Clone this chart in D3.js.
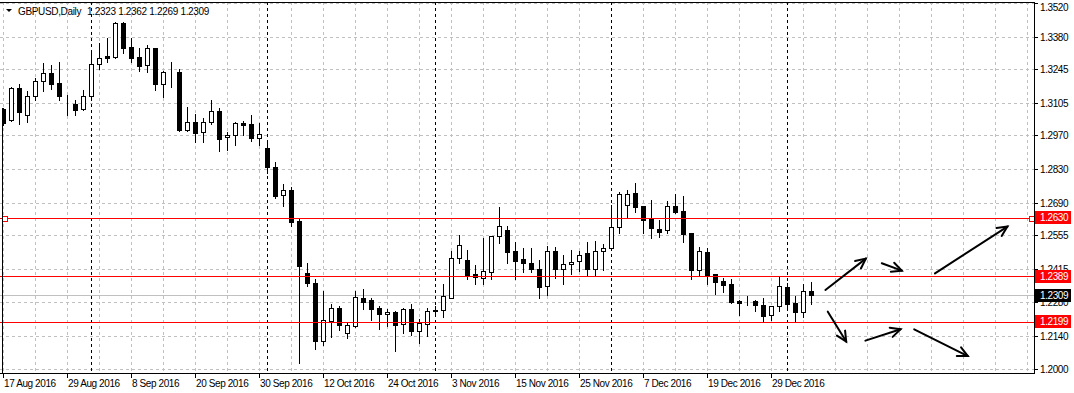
<!DOCTYPE html>
<html><head><meta charset="utf-8">
<script src="https://cdn.jsdelivr.net/npm/d3@7/dist/d3.min.js"></script>
<style>html,body{margin:0;padding:0;background:#fff;} svg{display:block;}</style>
</head><body>
<svg id="chart" width="1074" height="393"></svg>
<script>
// ---------------- data ----------------
const symbolTitle = "GBPUSD,Daily";
const opens  = [1.3080,1.3034,1.3166,1.3054,1.3132,1.3195,1.3228,1.3186,1.3105,1.3100,1.3078,1.3132,1.3265,1.3300,1.3295,1.3436,1.3336,1.3294,1.3261,1.3331,
                1.3185,1.3232,1.3232,1.2994,1.3024,1.2983,1.3024,1.3070,1.2962,1.2971,1.3020,1.3016,1.2958,1.2918,1.2839,1.2722,1.2742,1.2615,1.2398,1.2357,
                1.2119,1.2202,1.2253,1.2152,1.2178,1.2294,1.2286,1.2253,1.2228,1.2236,1.2187,1.2249,1.2160,1.2187,1.2243,1.2244,1.2297,1.2460,1.2452,1.2395,
                1.2377,1.2402,1.2552,1.2578,1.2491,1.2457,1.2441,1.2416,1.2344,1.2489,1.2417,1.2436,1.2448,1.2481,1.2415,1.2489,1.2505,1.2589,1.2680,1.2730,
                1.2677,1.2625,1.2582,1.2577,1.2676,1.2657,1.2564,1.2413,1.2485,1.2395,1.2366,1.2354,1.2283,1.2283,1.2283,1.2267,1.2224,1.2261,1.2340,1.2274,
                1.2236,1.2323];
const highs  = [1.3085,1.3169,1.3183,1.3154,1.3208,1.3269,1.3262,1.3273,1.3138,1.3117,1.3158,1.3326,1.3353,1.3375,1.3442,1.3440,1.3374,1.3331,1.3345,1.3334,
                1.3237,1.3275,1.3246,1.3088,1.3059,1.3041,1.3117,1.3083,1.2983,1.3024,1.3030,1.3055,1.3022,1.2948,1.2859,1.2767,1.2756,1.2622,1.2440,1.2373,
                1.2325,1.2270,1.2263,1.2197,1.2325,1.2333,1.2296,1.2261,1.2249,1.2242,1.2253,1.2271,1.2207,1.2253,1.2262,1.2353,1.2492,1.2557,1.2495,1.2434,
                1.2546,1.2553,1.2674,1.2594,1.2527,1.2502,1.2502,1.2453,1.2511,1.2509,1.2474,1.2494,1.2492,1.2527,1.2531,1.2520,1.2681,1.2737,1.2744,1.2771,
                1.2678,1.2702,1.2619,1.2698,1.2726,1.2720,1.2565,1.2506,1.2503,1.2396,1.2380,1.2376,1.2287,1.2304,1.2287,1.2297,1.2264,1.2387,1.2357,1.2305,
                1.2355,1.2362];
const lows   = [1.3015,1.3030,1.3019,1.3027,1.3118,1.3156,1.3164,1.3118,1.3056,1.3056,1.3076,1.3129,1.3247,1.3276,1.3292,1.3313,1.3276,1.3236,1.3232,1.3160,
                1.3131,1.3172,1.2990,1.2988,1.2942,1.2941,1.3019,1.2907,1.2911,1.2932,1.2973,1.2948,1.2932,1.2815,1.2712,1.2679,1.2596,1.2027,1.2344,1.2084,
                1.2101,1.2133,1.2164,1.2131,1.2177,1.2251,1.2206,1.2168,1.2181,1.2077,1.2151,1.2142,1.2110,1.2139,1.2230,1.2218,1.2294,1.2441,1.2375,1.2355,
                1.2354,1.2375,1.2523,1.2440,1.2373,1.2404,1.2405,1.2297,1.2308,1.2380,1.2355,1.2397,1.2409,1.2386,1.2386,1.2412,1.2495,1.2567,1.2626,1.2651,
                1.2567,1.2546,1.2549,1.2564,1.2650,1.2527,1.2373,1.2392,1.2353,1.2311,1.2322,1.2276,1.2225,1.2265,1.2241,1.2200,1.2203,1.2241,1.2255,1.2197,
                1.2218,1.2269];
const closes = [1.3020,1.3167,1.3068,1.3134,1.3195,1.3228,1.3185,1.3135,1.3104,1.3077,1.3132,1.3265,1.3291,1.3291,1.3436,1.3334,1.3292,1.3259,1.3331,1.3185,
                1.3232,1.3233,1.2993,1.3024,1.2981,1.3024,1.3070,1.2954,1.2971,1.3020,1.3015,1.2961,1.2975,1.2838,1.2720,1.2742,1.2612,1.2430,1.2359,1.2119,
                1.2203,1.2253,1.2185,1.2184,1.2299,1.2280,1.2251,1.2228,1.2236,1.2185,1.2249,1.2160,1.2191,1.2243,1.2245,1.2303,1.2460,1.2514,1.2393,1.2382,
                1.2408,1.2552,1.2594,1.2488,1.2450,1.2440,1.2417,1.2343,1.2489,1.2417,1.2437,1.2445,1.2473,1.2415,1.2489,1.2502,1.2589,1.2726,1.2726,1.2674,
                1.2620,1.2585,1.2571,1.2676,1.2651,1.2562,1.2413,1.2489,1.2392,1.2363,1.2350,1.2279,1.2276,1.2283,1.2268,1.2222,1.2261,1.2344,1.2272,1.2236,
                1.2323,1.2309];
const xTickBars   = [0, 8, 16, 24, 32, 40, 48, 56, 64, 72, 80, 88, 96];
const xTickLabels = ["17 Aug 2016","29 Aug 2016","8 Sep 2016","20 Sep 2016","30 Sep 2016","12 Oct 2016","24 Oct 2016",
                     "3 Nov 2016","15 Nov 2016","25 Nov 2016","7 Dec 2016","19 Dec 2016","29 Dec 2016"];
const monthStartBars = [11, 33, 54, 76, 98];
const yTickLabels = ["1.3520","1.3380","1.3245","1.3105","1.2970","1.2830","1.2690","1.2555","1.2415","1.2280","1.2140","1.2000"];
const levelPrices = [1.2630, 1.2389, 1.2199];
const bidPrice = 1.2309;
const arrowStartBar   = [102.8, 109.85, 116.5, 103.1, 107.8, 113.9];
const arrowStartPrice = [1.2329, 1.2440, 1.2398, 1.2239, 1.2119, 1.2166];
const arrowEndBar     = [107.85, 112.35, 125.55, 105.4, 112.2, 120.6];
const arrowEndPrice   = [1.2459, 1.2409, 1.2592, 1.2115, 1.2166, 1.2055];

// ---------------- layout ----------------
const W = 1074, H = 393;
const plotRight = 1034, plotTop = 2, plotBottom = 373;
const svg = d3.select("#chart");
svg.append("rect").attr("width", W).attr("height", H).attr("fill", "#fff");

const x = d3.scaleLinear().domain([0, 128]).range([3, 1027]);
const y = d3.scaleLinear().domain([1.2000, 1.3520]).range([369.3, 2.8]);
const px = v => Math.round(v) + 0.5;
const levelRow = p => 2 * Math.round(y(p) / 2);
const FONT = "'Liberation Sans', Arial, sans-serif";
const textStyle = sel => sel.attr("font-family", FONT).attr("font-size", 10).attr("letter-spacing", -0.4);

const plot = svg.append("g");
const clip = svg.append("clipPath").attr("id", "clipPlot");
clip.append("rect").attr("x", 2).attr("y", plotTop).attr("width", plotRight - 2).attr("height", plotBottom - plotTop);

// grid
const gridColor = "#c0c0c0";
const gridBars = d3.range(0, 129, 4);
plot.append("g").selectAll("line").data(gridBars).join("line")
  .attr("x1", d => px(x(d))).attr("x2", d => px(x(d)))
  .attr("y1", plotTop).attr("y2", plotBottom)
  .attr("stroke", gridColor).attr("stroke-dasharray", "3,3").attr("shape-rendering", "crispEdges");
plot.append("g").selectAll("line").data(yTickLabels).join("line")
  .attr("x1", 0).attr("x2", plotRight)
  .attr("y1", d => px(y(+d))).attr("y2", d => px(y(+d)))
  .attr("stroke", gridColor).attr("stroke-dasharray", "3,3").attr("shape-rendering", "crispEdges");

// month separators
plot.append("g").selectAll("line").data(monthStartBars).join("line")
  .attr("x1", d => px(x(d))).attr("x2", d => px(x(d)))
  .attr("y1", plotTop).attr("y2", plotBottom)
  .attr("stroke", "#000").attr("stroke-dasharray", "3,3").attr("shape-rendering", "crispEdges");

// bid line
plot.append("line").attr("x1", 0).attr("x2", plotRight)
  .attr("y1", px(y(bidPrice))).attr("y2", px(y(bidPrice)))
  .attr("stroke", "#c0c0c0").attr("shape-rendering", "crispEdges");

// candles
const bars = d3.range(opens.length).map(i => ({i, o: opens[i], h: highs[i], l: lows[i], c: closes[i]}));
const cg = plot.append("g").attr("clip-path", "url(#clipPlot)").attr("shape-rendering", "crispEdges");
cg.selectAll("line.wick").data(bars).join("line").attr("class", "wick")
  .attr("x1", d => px(x(d.i))).attr("x2", d => px(x(d.i)))
  .attr("y1", d => Math.round(y(d.h))).attr("y2", d => Math.round(y(d.l)) + 1)
  .attr("stroke", "#000");
cg.selectAll("rect.body").data(bars).join("rect").attr("class", "body")
  .attr("x", d => Math.round(x(d.i)) - 2 + 0.5)
  .attr("y", d => Math.round(y(Math.max(d.o, d.c))) + 0.5)
  .attr("width", 4)
  .attr("height", d => Math.max(0, Math.round(y(Math.min(d.o, d.c))) - Math.round(y(Math.max(d.o, d.c)))))
  .attr("fill", d => d.c >= d.o ? "#fff" : "#000")
  .attr("stroke", "#000");

// horizontal level lines
const lg = svg.append("g");
lg.selectAll("rect.level").data(levelPrices).join("rect").attr("class", "level")
  .attr("x", 0).attr("width", plotRight)
  .attr("y", d => levelRow(d)).attr("height", 1)
  .attr("fill", "#ff0000").attr("shape-rendering", "crispEdges");
// selection markers on the first level
[5, plotRight - 2].forEach(cx => {
  lg.append("rect").attr("x", cx - 3 + 0.5).attr("y", levelRow(levelPrices[0]) - 2 + 0.5)
    .attr("width", 5).attr("height", 5).attr("fill", "#fff").attr("stroke", "#ff0000")
    .attr("shape-rendering", "crispEdges");
});

// arrows
const ag = svg.append("g").attr("stroke", "#000").attr("stroke-width", 2).attr("fill", "none").attr("stroke-linecap", "round");
arrowStartBar.forEach((b, k) => {
  const x1 = x(b), y1 = y(arrowStartPrice[k]), x2 = x(arrowEndBar[k]), y2 = y(arrowEndPrice[k]);
  const ang = Math.atan2(y2 - y1, x2 - x1), len = 11, spread = 0.45;
  ag.append("line").attr("x1", x1).attr("y1", y1).attr("x2", x2).attr("y2", y2);
  ag.append("path").attr("d",
    `M${x2 - len * Math.cos(ang - spread)},${y2 - len * Math.sin(ang - spread)}L${x2},${y2}L${x2 - len * Math.cos(ang + spread)},${y2 - len * Math.sin(ang + spread)}`);
});

// borders
const bg = svg.append("g").attr("stroke", "#000").attr("shape-rendering", "crispEdges");
bg.append("line").attr("x1", 0).attr("x2", plotRight + 1).attr("y1", plotTop + 0.5).attr("y2", plotTop + 0.5);
bg.append("line").attr("x1", 0).attr("x2", plotRight + 1).attr("y1", plotBottom + 0.5).attr("y2", plotBottom + 0.5);
bg.append("line").attr("x1", plotRight + 0.5).attr("x2", plotRight + 0.5).attr("y1", plotTop).attr("y2", plotBottom + 1);
bg.append("line").attr("x1", 2.5).attr("x2", 2.5).attr("y1", Math.round(y(highs[0]))).attr("y2", plotBottom + 1);

// y axis ticks/labels
const yAx = svg.append("g");
yAx.selectAll("line").data(yTickLabels).join("line")
  .attr("x1", plotRight).attr("x2", plotRight + 4)
  .attr("y1", d => px(y(+d))).attr("y2", d => px(y(+d)))
  .attr("stroke", "#000").attr("shape-rendering", "crispEdges");
yAx.selectAll("text").data(yTickLabels).join("text")
  .attr("x", plotRight + 6).attr("y", d => Math.max(11, y(+d) + 4))
  .call(textStyle).attr("fill", "#000").text(d => d);

// value boxes
const boxes = levelPrices.map(p => ({p, fill: "#ff0000"})).concat([{p: bidPrice, fill: "#000"}]);
const bx = svg.append("g");
boxes.forEach(b => {
  const yy = Math.round(y(b.p));
  bx.append("rect").attr("x", plotRight + 1).attr("y", yy - 6).attr("width", 36).attr("height", 13)
    .attr("fill", b.fill);
  bx.append("text").attr("x", plotRight + 6).attr("y", yy + 4)
    .call(textStyle).attr("fill", "#fff").text(b.p.toFixed(4));
});

// x axis
const xAx = svg.append("g");
xAx.selectAll("line").data(xTickBars).join("line")
  .attr("x1", d => px(x(d))).attr("x2", d => px(x(d)))
  .attr("y1", plotBottom).attr("y2", plotBottom + 5)
  .attr("stroke", "#000").attr("shape-rendering", "crispEdges");
xAx.selectAll("text").data(xTickLabels).join("text")
  .attr("x", (d, k) => x(xTickBars[k]) + 1).attr("y", 387)
  .call(textStyle).attr("fill", "#000").text(d => d);

// header
const last = opens.length - 1;
const hd = svg.append("g");
hd.append("path").attr("d", "M6,9L12,9L9,12Z").attr("fill", "#000");
hd.append("text").attr("x", 18).attr("y", 15).call(textStyle).attr("fill", "#000")
  .attr("textLength", 63).attr("lengthAdjust", "spacing").text(symbolTitle);
hd.append("text").attr("x", 87).attr("y", 15).call(textStyle).attr("fill", "#000")
  .attr("textLength", 122).attr("lengthAdjust", "spacing")
  .text([opens[last], highs[last], lows[last], closes[last]].map(v => v.toFixed(4)).join(" "));
</script>
</body></html>
